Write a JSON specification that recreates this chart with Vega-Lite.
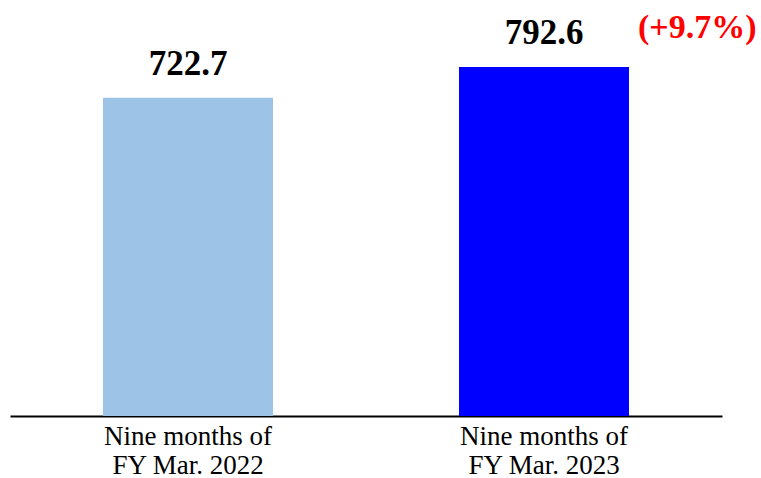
{
  "$schema": "https://vega.github.io/schema/vega-lite/v6.json",
  "autosize": "none",
  "width": 712,
  "height": 416,
  "padding": {"left": 10, "top": 0, "right": 39, "bottom": 62},
  "background": "white",
  "config": {"view": {"stroke": null}},
  "data": {
    "values": [
      {"period": "Nine months of|FY Mar. 2022", "value": 722.7, "color": "#9DC3E6", "pct": ""},
      {"period": "Nine months of|FY Mar. 2023", "value": 792.6, "color": "#0000FF", "pct": "(+9.7%)"}
    ]
  },
  "encoding": {
    "x": {
      "field": "period",
      "type": "nominal",
      "sort": null,
      "scale": {"paddingInner": 0, "paddingOuter": 0},
      "axis": {
        "title": null,
        "labelAngle": 0,
        "labelExpr": "split(datum.value, '|')",
        "labelFont": "Liberation Serif",
        "labelFontSize": 27,
        "labelColor": "black",
        "labelLineHeight": 29,
        "labelPadding": 7,
        "ticks": false,
        "domainColor": "black",
        "domainWidth": 2
      }
    },
    "y": {
      "field": "value",
      "type": "quantitative",
      "scale": {"domain": [0, 945]},
      "axis": null
    }
  },
  "layer": [
    {
      "mark": {"type": "bar", "width": 170},
      "encoding": {
        "color": {"field": "color", "type": "nominal", "scale": null, "legend": null}
      }
    },
    {
      "mark": {"type": "text", "baseline": "alphabetic", "dy": -23, "font": "Liberation Serif", "fontWeight": "bold", "fontSize": 35, "color": "black"},
      "encoding": {"text": {"field": "value", "type": "quantitative", "format": ".1f"}}
    },
    {
      "mark": {"type": "text", "align": "left", "baseline": "alphabetic", "dx": 94, "dy": -29, "font": "Liberation Serif", "fontWeight": "bold", "fontSize": 34, "color": "#FF0000"},
      "encoding": {"text": {"field": "pct", "type": "nominal"}}
    }
  ]
}
